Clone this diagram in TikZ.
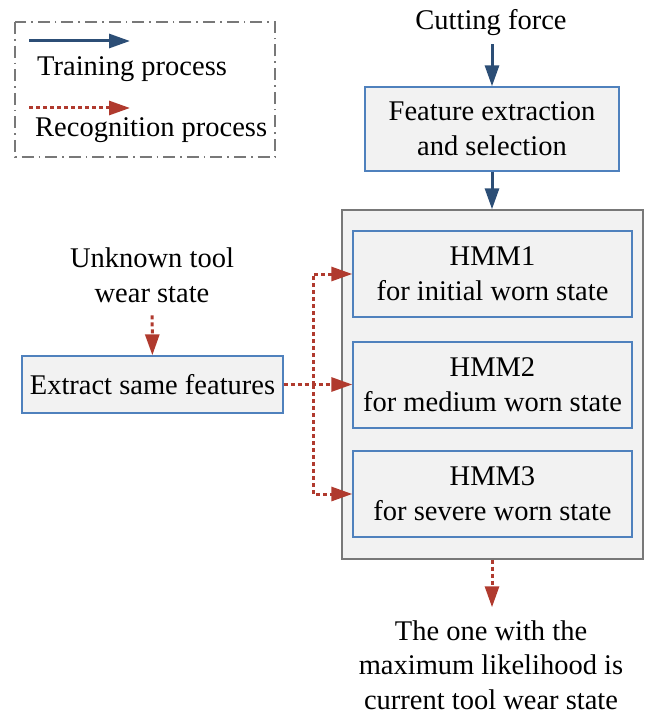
\documentclass[tikz,border=0pt]{standalone}
\usepackage{fontspec}
\setmainfont{Liberation Serif}
\usetikzlibrary{arrows.meta}
\definecolor{boxblue}{RGB}{79,129,189}
\definecolor{boxfill}{RGB}{242,242,242}
\definecolor{trainblue}{RGB}{44,78,118}
\definecolor{recred}{RGB}{176,58,46}
\definecolor{framegray}{RGB}{120,120,120}
\tikzset{
  lbl/.style={font=\fontsize{28.5}{34.5}\selectfont, inner sep=0pt, align=center},
  procbox/.style={draw=boxblue, fill=boxfill, line width=1.4pt, inner sep=0pt,
    font=\fontsize{28.5}{35}\selectfont, align=center},
  train/.style={draw=trainblue, line width=3pt,
    -{Triangle[length=21pt,width=14pt,fill=trainblue]}},
  recog/.style={draw=recred, line width=3pt, dash pattern=on 4pt off 3pt,
    -{Triangle[length=21pt,width=14pt,fill=recred]}},
  recogline/.style={draw=recred, line width=3pt, dash pattern=on 4pt off 3pt},
}
\begin{document}
\begin{tikzpicture}[x=1pt,y=-1pt]
\useasboundingbox (0,0) rectangle (645,714);

% legend
\draw[framegray, line width=1.6pt, dash pattern=on 12pt off 5pt on 1.6pt off 5pt]
  (15,22) rectangle (275,157);
\coordinate (lt0) at (29,41);
\coordinate (lt1) at (130,41);
\draw[train] (lt0) -- (lt1);
\node[lbl, anchor=base west] (ltxt) at (37,76) {Training process};
\coordinate (lr0) at (29,108);
\coordinate (lr1) at (130,108);
\draw[recog] (lr0) -- (lr1);
\node[lbl, anchor=base west] (lrtxt) at (35,137) {Recognition process};

% training branch
\node[lbl, anchor=base] (force) at (491,30) {Cutting force};
\node[procbox, minimum width=254pt, minimum height=84pt] (feat) at (492,129)
  {Feature extraction\\and selection};

\node[draw=framegray, fill=boxfill, line width=1.4pt, minimum width=301pt,
  minimum height=349pt, inner sep=0pt] (bank) at (492.5,384.5) {};
\node[procbox, minimum width=279pt, minimum height=86pt] (hmm1) at (492.5,274)
  {HMM1\\for initial worn state};
\node[procbox, minimum width=279pt, minimum height=86pt] (hmm2) at (492.5,385)
  {HMM2\\for medium worn state};
\node[procbox, minimum width=279pt, minimum height=86pt] (hmm3) at (492.5,494)
  {HMM3\\for severe worn state};

\draw[train, shorten <=8pt] (force.south -| feat.north) -- (feat.north);
\draw[train] (feat.south) -- (feat.south |- bank.north);

% recognition branch
\node[lbl] (unk) at (152,275) {Unknown tool\\wear state};
\node[procbox, minimum width=261pt, minimum height=57pt] (ext) at (152.5,384.5)
  {Extract same features};
\draw[recog, shorten <=13pt] (unk) -- (ext);
\draw[recog] (ext.east) -- (ext.east -| hmm2.west);
\coordinate (split) at (313,385);
\draw[recogline] (split) |- ([xshift=-20pt]hmm1.west);
\draw[recogline] (split) |- ([xshift=-20pt]hmm3.west);
\draw[recog] ([xshift=-21pt]hmm1.west) -- (hmm1.west);
\draw[recog] ([xshift=-21pt]hmm3.west) -- (hmm3.west);

\node[lbl] (res) at (491,665) {The one with the\\maximum likelihood is\\current tool wear state};
\draw[recog, shorten >=13pt] (bank.south -| feat.south) -- (feat.south |- res.north);
\end{tikzpicture}
\end{document}
